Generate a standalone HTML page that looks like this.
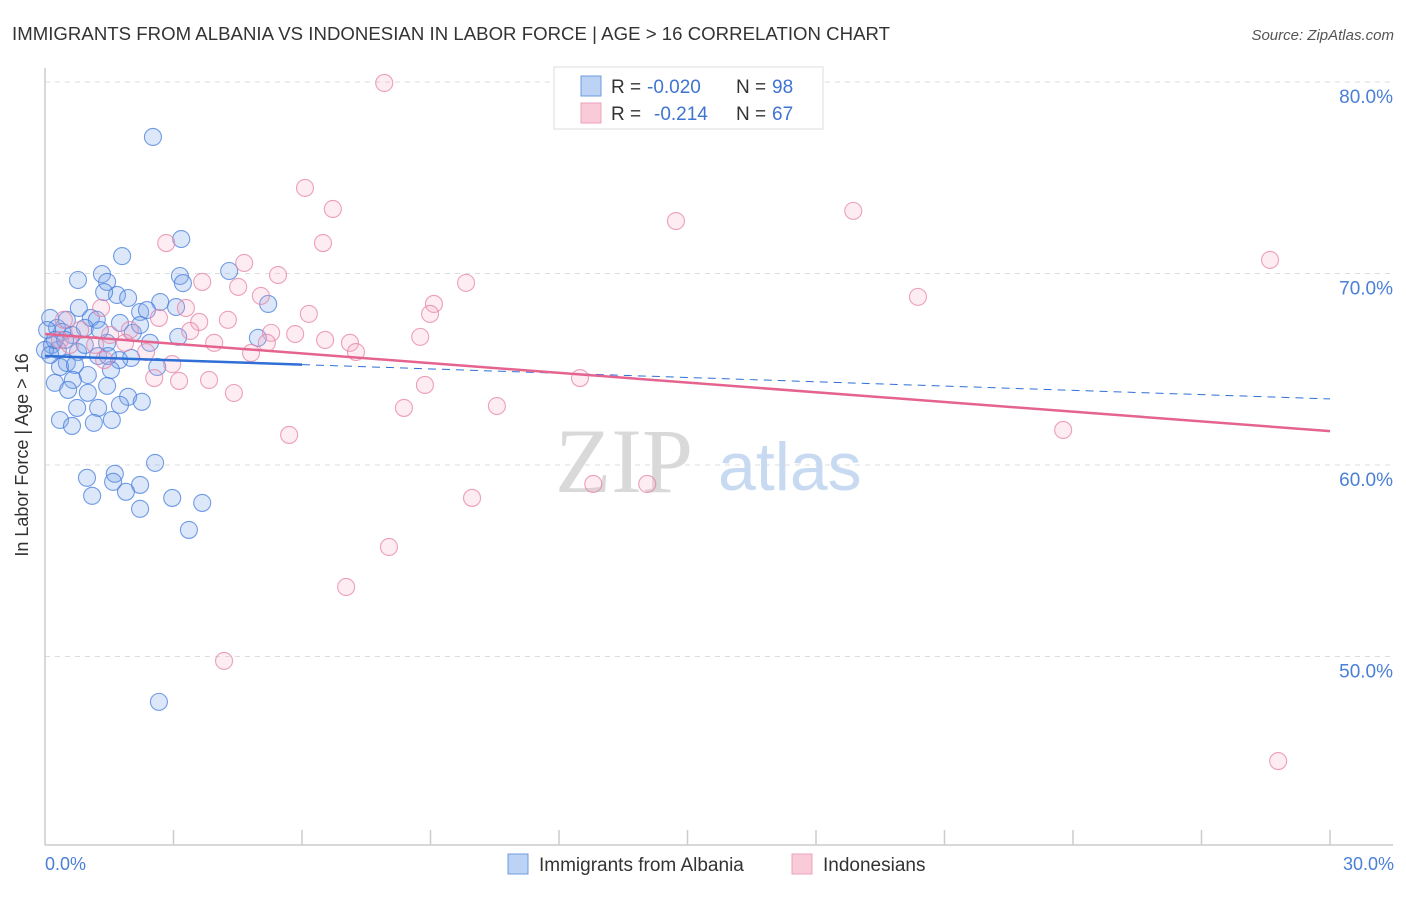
<!DOCTYPE html>
<html><head><meta charset="utf-8"><style>
body{margin:0;background:#fff;font-family:"Liberation Sans",sans-serif}
svg text{font-family:"Liberation Sans",sans-serif}
</style></head><body>
<svg id="c" width="1406" height="892" xmlns="http://www.w3.org/2000/svg">
<text x="12" y="40" font-size="18.6" fill="#333" textLength="878">IMMIGRANTS FROM ALBANIA VS INDONESIAN IN LABOR FORCE | AGE &gt; 16 CORRELATION CHART</text>
<text x="1394" y="40" font-size="15" fill="#555" font-style="italic" text-anchor="end">Source: ZipAtlas.com</text>
<g id="grid"></g>
<line x1="45" y1="68" x2="45" y2="845" stroke="#ccc" stroke-width="1.5"/>
<line x1="45" y1="845" x2="1393" y2="845" stroke="#ccc" stroke-width="1.5"/>
<g id="xt"></g>
<text x="555" y="492" font-size="92" fill="#d9d9d9" style="font-family:'Liberation Serif',serif">ZIP</text>
<text x="718" y="490" font-size="68" fill="#c8daf2">atlas</text>
<g id="pts"></g>
<g id="tr"></g>
<text x="28" y="455" font-size="18" fill="#333" transform="rotate(-90 28 455)" text-anchor="middle">In Labor Force | Age &gt; 16</text>
<text x="45" y="870" font-size="18" fill="#4a7fd6">0.0%</text>
<text x="1394" y="870" font-size="18" fill="#4a7fd6" text-anchor="end">30.0%</text>
<g>
<rect x="554" y="67" width="269" height="62" fill="#fff" stroke="#ddd"/>
<rect x="581" y="76" width="20" height="20" fill="#bcd3f5" stroke="#6d9be0"/>
<rect x="581" y="103" width="20" height="20" fill="#f9cbd9" stroke="#eea1ba"/>
<text x="611" y="93" font-size="19" fill="#333">R =</text>
<text x="647" y="93" font-size="19" fill="#3f74d0">-0.020</text>
<text x="736" y="93" font-size="19" fill="#333">N =</text>
<text x="772" y="93" font-size="19" fill="#3f74d0">98</text>
<text x="611" y="120" font-size="19" fill="#333">R =</text>
<text x="654" y="120" font-size="19" fill="#3f74d0">-0.214</text>
<text x="736" y="120" font-size="19" fill="#333">N =</text>
<text x="772" y="120" font-size="19" fill="#3f74d0">67</text>
</g>
<g>
<rect x="508" y="854" width="20" height="20" fill="#bcd3f5" stroke="#6d9be0"/>
<text x="539" y="871" font-size="19" fill="#333">Immigrants from Albania</text>
<rect x="792" y="854" width="20" height="20" fill="#f9cbd9" stroke="#eea1ba"/>
<text x="823" y="871" font-size="19" fill="#333">Indonesians</text>
</g>
</svg>
<script>
const yTicks=[80,70,60,50];
const yTickLabels=["80.0%","70.0%","60.0%","50.0%"];
const blueX=[2.52,3.18,1.80,4.30,3.15,1.33,0.77,1.45,3.22,1.68,1.38,1.94,2.69,3.06,5.21,0.79,2.22,2.38,1.07,1.75,0.51,1.21,0.12,0.28,0.93,0.40,0.63,2.05,3.11,4.97,2.45,1.45,0.16,0.30,0.77,1.24,2.01,1.73,0.51,0.35,0.70,2.62,1.54,1.00,0.65,1.45,0.23,0.54,1.00,1.94,2.26,1.75,0.75,1.24,0.35,1.56,0.63,1.14,2.57,1.63,0.98,1.59,2.22,1.89,1.10,2.97,3.67,2.22,3.36,2.66,0.05,0.0,0.12,0.23,0.47,0.93,1.28,2.22,1.47];
const blueY=[77.13,71.80,70.91,70.13,69.87,69.97,69.66,69.56,69.50,68.88,69.03,68.72,68.51,68.25,68.41,68.20,67.99,68.09,67.68,67.42,67.58,67.58,67.68,67.16,67.16,66.95,66.79,66.90,66.69,66.64,66.38,66.38,66.27,66.01,65.90,65.69,65.59,65.48,65.33,65.12,65.22,65.12,64.96,64.70,64.44,64.13,64.29,63.92,63.77,63.56,63.30,63.14,62.98,62.98,62.35,62.35,62.04,62.20,60.11,59.54,59.33,59.12,58.96,58.60,58.39,58.28,58.02,57.71,56.61,47.63,67.05,66.01,65.75,66.53,66.53,66.27,67.05,67.31,65.69];
const pinkX=[7.92,6.07,6.72,14.73,18.87,2.83,6.49,28.60,4.65,5.44,3.67,4.51,5.04,20.38,9.83,9.08,8.99,3.29,1.31,6.16,3.60,4.27,2.66,0.44,1.98,3.39,5.84,5.28,6.54,8.76,3.95,7.12,5.18,1.87,7.26,4.81,2.36,2.97,1.38,2.55,12.49,3.13,3.83,8.87,4.41,8.38,10.55,5.70,23.77,12.80,14.06,9.97,8.03,7.03,4.18,28.79,0.35,0.82,0.58,1.52,1.17];
const pinkY=[79.95,74.47,73.37,72.74,73.27,71.59,71.59,70.71,70.55,69.92,69.56,69.30,68.83,68.78,69.51,68.41,67.89,68.20,68.20,67.89,67.47,67.58,67.68,67.58,67.05,67.00,66.84,66.90,66.53,66.69,66.38,66.38,66.38,66.38,65.90,65.85,65.90,65.27,65.48,64.54,64.54,64.39,64.44,64.18,63.76,62.98,63.08,61.57,61.83,59.01,59.01,58.28,55.72,53.63,49.77,44.54,66.53,67.05,66.27,66.79,66.27];
const blueTrend=[65.69,63.45];
const pinkTrend=[66.84,61.77];
const blueSolidEnd=6.0;
const NS="http://www.w3.org/2000/svg";
const X=v=>45+v/30*1285;
const Y=v=>82+(80-v)*19.15;
function mk(t,a,p){const e=document.createElementNS(NS,t);for(const k in a)e.setAttribute(k,a[k]);p.appendChild(e);return e;}
const grid=document.getElementById('grid');
yTicks.forEach((t,i)=>{
 const l=mk('line',{x1:45,x2:1393,y1:Y(t),y2:Y(t),stroke:'#ddd','stroke-dasharray':'5,5'},grid);
 
 
 const tx=mk('text',{x:1393,y:Y(t)+21,'font-size':19,fill:'#4a7fd6','text-anchor':'end'},grid);
 tx.textContent=yTickLabels[i];
 
 
});
const xt=document.getElementById('xt');
for(let k=1;k<=10;k++){
 const l=mk('line',{x1:X(k*3),x2:X(k*3),y1:830,y2:845,stroke:'#ccc','stroke-width':1.5},xt);
 
 
}
const pts=document.getElementById('pts');
blueX.forEach((x,i)=>{
 const c=mk('circle',{cx:X(x),cy:Y(blueY[i]),r:8.5,fill:'rgba(130,170,235,0.28)',stroke:'rgba(70,125,220,0.75)','stroke-width':1.1},pts);
 
 
});
pinkX.forEach((x,i)=>{
 const c=mk('circle',{cx:X(x),cy:Y(pinkY[i]),r:8.5,fill:'rgba(245,170,195,0.22)',stroke:'rgba(230,130,165,0.75)','stroke-width':1.1},pts);
 
 
});
const tr=document.getElementById('tr');
const by=x=>blueTrend[0]+(blueTrend[1]-blueTrend[0])*x/30;
let l1=mk('line',{x1:X(0),y1:Y(by(0)),x2:X(blueSolidEnd),y2:Y(by(blueSolidEnd)),stroke:'#2f6fd6','stroke-width':2.5},tr);


let l2=mk('line',{x1:X(blueSolidEnd),y1:Y(by(blueSolidEnd)),x2:X(30),y2:Y(by(30)),stroke:'#2f6fd6','stroke-width':1,'stroke-dasharray':'8,6'},tr);


let l3=mk('line',{x1:X(0),y1:Y(pinkTrend[0]),x2:X(30),y2:Y(pinkTrend[1]),stroke:'#e5648f','stroke-width':2.5},tr);


</script>
</body></html>
